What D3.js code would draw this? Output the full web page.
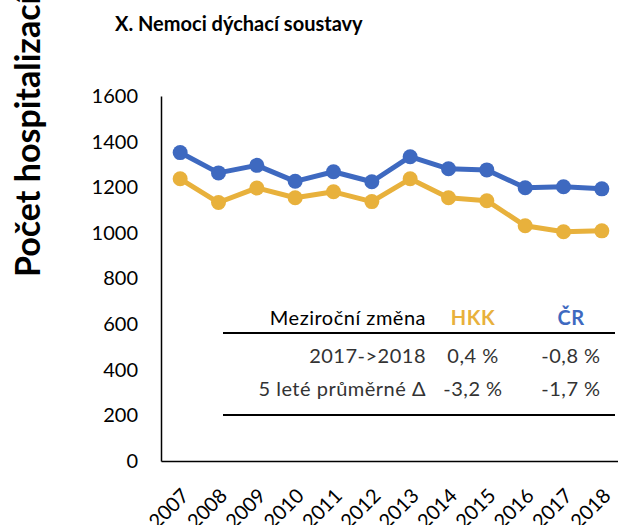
<!DOCTYPE html>
<html>
<head>
<meta charset="utf-8">
<script src="https://cdn.jsdelivr.net/npm/d3@7"></script>
<style>
  body { margin: 0; background: #fff; }
  svg { display: block; font-family: Lato, "Open Sans", sans-serif; }
</style>
</head>
<body>
<svg id="chart" width="618" height="525"></svg>
<script>
// data
var years = ["2007", "2008", "2009", "2010", "2011", "2012", "2013", "2014", "2015", "2016", "2017", "2018"];
var hkk = [1237, 1133, 1197, 1154, 1180, 1137, 1237, 1154, 1141, 1031, 1005, 1009];
var cr = [1352, 1263, 1296, 1226, 1268, 1224, 1334, 1281, 1276, 1198, 1202, 1193];
var yTicks = [0, 200, 400, 600, 800, 1000, 1200, 1400, 1600];

var tableHead = ["Meziroční změna", "HKK", "ČR"];
var tableRows = [
    ["2017->2018", "0,4 %", "-0,8 %"],
    ["5 leté průměrné Δ", "-3,2 %", "-1,7 %"]
];

var blue = "#3e69c0";
var gold = "#e8b13c";

var svg = d3.select("#chart");

// plot area
var mLeft = 161, mRight = 621, mTop = 96, mBottom = 461;

var x = d3.scaleBand().domain(years).range([mLeft, mRight]);
var y = d3.scaleLinear().domain([0, 1600]).range([mBottom, mTop]);

// title
svg.append("text")
    .attr("x", 115)
    .attr("y", 31)
    .attr("font-size", 20)
    .attr("font-weight", "bold")
    .text("X. Nemoci dýchací soustavy");

// y label (cut at top like the original)
svg.append("text")
    .attr("transform", "translate(40,277) rotate(-90)")
    .attr("font-size", 34)
    .attr("font-weight", "bold")
    .text("Počet hospitalizací");

// axes
var yAxis = svg.append("g")
    .attr("transform", "translate(" + mLeft + ",0)")
    .call(d3.axisLeft(y).tickValues(yTicks).tickSize(0).tickPadding(23).tickFormat(d3.format("d")));
yAxis.select(".domain").attr("stroke", "#000").attr("stroke-width", 1.5);
yAxis.selectAll("text").attr("font-size", 20).attr("font-family", "Lato").attr("fill", "#000");

var xAxis = svg.append("g")
    .attr("transform", "translate(0," + mBottom + ")")
    .call(d3.axisBottom(x).tickSize(0).tickFormat(""));
xAxis.select(".domain").attr("stroke", "#000").attr("stroke-width", 1.5);

svg.selectAll(".xlab")
    .data(years)
    .enter().append("text")
    .attr("class", "xlab")
    .attr("text-anchor", "end")
    .attr("font-size", 20)
    .attr("transform", function (d) {
        return "translate(" + (x(d) + x.bandwidth() / 2 + 10) + "," + 497 + ") rotate(-45)";
    })
    .text(function (d) { return d; });

// lines
var line = d3.line()
    .x(function (d, i) { return x(years[i]) + x.bandwidth() / 2; })
    .y(function (d) { return y(d); });

[[hkk, gold], [cr, blue]].forEach(function (s) {
    svg.append("path")
        .datum(s[0])
        .attr("fill", "none")
        .attr("stroke", s[1])
        .attr("stroke-width", 5)
        .attr("stroke-linejoin", "round")
        .attr("d", line);
    svg.selectAll(null)
        .data(s[0])
        .enter().append("circle")
        .attr("cx", function (d, i) { return x(years[i]) + x.bandwidth() / 2; })
        .attr("cy", function (d) { return y(d); })
        .attr("r", 7.5)
        .attr("fill", s[1]);
});

// table
var colX = [426, 473, 571];
var anchors = ["end", "middle", "middle"];
var headColors = ["#000", gold, blue];

var tbl = svg.append("g").attr("font-size", 20).attr("letter-spacing", 0.5);
tableHead.forEach(function (t, i) {
    tbl.append("text")
        .attr("x", colX[i])
        .attr("y", 325)
        .attr("text-anchor", anchors[i])
        .attr("fill", headColors[i])
        .attr("font-weight", i > 0 ? "bold" : "normal")
        .text(t);
});
tbl.append("line").attr("x1", 223).attr("x2", 615).attr("y1", 333).attr("y2", 333)
    .attr("stroke", "#000").attr("stroke-width", 2);
tableRows.forEach(function (row, r) {
    row.forEach(function (t, i) {
        tbl.append("text")
            .attr("x", colX[i])
            .attr("y", 363 + r * 33)
            .attr("text-anchor", anchors[i])
            .attr("fill", "#333")
            .text(t);
    });
});
tbl.append("line").attr("x1", 223).attr("x2", 615).attr("y1", 415).attr("y2", 415)
    .attr("stroke", "#000").attr("stroke-width", 2);
</script>
</body>
</html>
